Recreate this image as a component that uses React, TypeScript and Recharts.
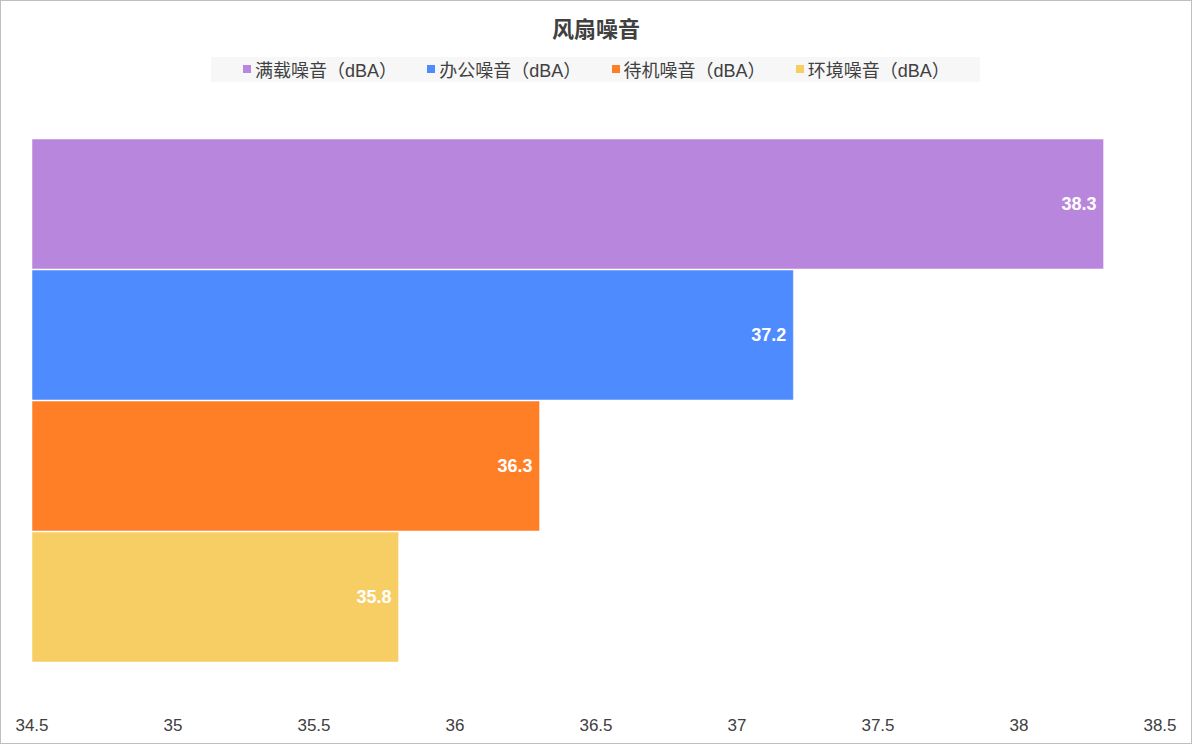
import React from 'react';
import { BarChart, Bar, XAxis, YAxis, LabelList } from 'recharts';

const categories = ['风扇噪音'];
const seriesNames = ['满载噪音（dBA）', '办公噪音（dBA）', '待机噪音（dBA）', '环境噪音（dBA）'];
const seriesKeys = ['full', 'office', 'idle', 'env'];
const seriesColors = ['#B886DC', '#4E8BFF', '#FF7F27', '#F7CE63'];
const fullLoad = [38.3];
const office = [37.2];
const idle = [36.3];
const ambient = [35.8];
const xTicks = [34.5, 35, 35.5, 36, 36.5, 37, 37.5, 38, 38.5];

const data = categories.map((name, i) => ({
  name,
  full: fullLoad[i],
  office: office[i],
  idle: idle[i],
  env: ambient[i],
}));

const font = '"Liberation Sans", "Noto Sans CJK SC", sans-serif';

export default function App() {
  return (
    <div style={{ position: 'relative', width: 1192, height: 744, fontFamily: font }}>
      <style>{'body{margin:0;background:#fff}'}</style>
      <div
        style={{
          position: 'absolute',
          left: 0,
          top: 0,
          width: 1190,
          height: 742,
          border: '1px solid #bfbfbf',
          background: '#fff',
        }}
      >
        {/* 标题 */}
        <div
          style={{
            position: 'absolute',
            top: 15,
            width: '100%',
            textAlign: 'center',
            fontSize: 22,
            fontWeight: 'bold',
            color: '#404040',
            lineHeight: '28px',
          }}
        >
          风扇噪音
        </div>
        {/* 图例 */}
        <div
          style={{
            position: 'absolute',
            left: 210,
            top: 56,
            width: 769,
            height: 25,
            paddingLeft: 32,
            boxSizing: 'border-box',
            background: '#f7f7f7',
            display: 'flex',
            alignItems: 'center',
            fontSize: 18,
            color: '#404040',
            whiteSpace: 'nowrap',
          }}
        >
          {seriesNames.map((n, i) => (
            <span
              key={n}
              style={{ display: 'inline-flex', alignItems: 'center', gap: 4, width: 186, marginTop: -1 }}
            >
              <span style={{ width: 8, height: 8, background: seriesColors[i], display: 'inline-block' }} />
              {n}
            </span>
          ))}
        </div>
        <BarChart
          width={1190}
          height={742}
          data={data}
          layout="vertical"
          margin={{ top: 138, right: 31, left: 31, bottom: 0 }}
          barCategoryGap={0}
          barGap={1}
        >
          <XAxis
            type="number"
            domain={[34.5, 38.5]}
            ticks={xTicks}
            axisLine={false}
            tickLine={false}
            tickMargin={51}
            height={81}
            interval={0}
            tick={{ fontSize: 17, fill: '#404040', fontFamily: font }}
          />
          <YAxis type="category" dataKey="name" hide />
          {seriesKeys.map((k, i) => (
            <Bar
              key={k}
              dataKey={k}
              name={seriesNames[i]}
              fill={seriesColors[i]}
              stroke="#ffffff"
              strokeOpacity={0.5}
              strokeWidth={1}
              isAnimationActive={false}
            >
              <LabelList
                dataKey={k}
                position="insideRight"
                offset={7}
                fill="#ffffff"
                fontSize={18}
                fontWeight="bold"
                fontFamily={font}
              />
            </Bar>
          ))}
        </BarChart>
      </div>
    </div>
  );
}
